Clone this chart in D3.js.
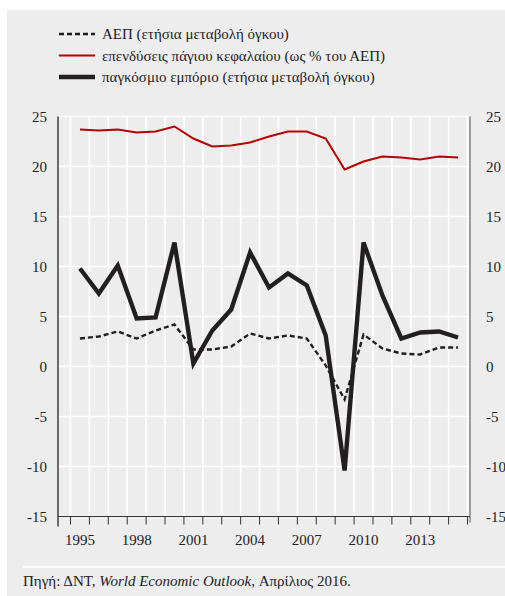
<!DOCTYPE html>
<html>
<head>
<meta charset="utf-8">
<script src="https://d3js.org/d3.v7.min.js"></script>
<style>
  text, tspan { font-family: 'Liberation Serif', Tinos, 'Times New Roman', serif !important; }
</style>
</head>
<body style="margin:0">
<svg width="505" height="596"></svg>
<script>
// data
var years = d3.range(1995, 2016);
var gdp = [2.8, 3.0, 3.5, 2.8, 3.6, 4.2, 1.7, 1.7, 2.0, 3.3, 2.8, 3.1, 2.8, 0.1, -3.3, 3.2, 1.8, 1.3, 1.2, 1.9, 1.9];
var investment = [23.7, 23.6, 23.7, 23.4, 23.5, 24.0, 22.8, 22.0, 22.1, 22.4, 23.0, 23.5, 23.5, 22.8, 19.7, 20.5, 21.0, 20.9, 20.7, 21.0, 20.9];
var trade = [9.8, 7.3, 10.1, 4.8, 4.9, 12.4, 0.3, 3.6, 5.7, 11.4, 7.9, 9.3, 8.1, 3.1, -10.4, 12.4, 7.1, 2.8, 3.4, 3.5, 2.9];
var yTicks = [25, 20, 15, 10, 5, 0, -5, -10, -15];
var xLabels = [1995, 1998, 2001, 2004, 2007, 2010, 2013];
var legendLabels = [
  "ΑΕΠ (ετήσια μεταβολή όγκου)",
  "επενδύσεις πάγιου κεφαλαίου (ως % του ΑΕΠ)",
  "παγκόσμιο εμπόριο (ετήσια μεταβολή όγκου)"
];

var svg = d3.select("svg");

// every label goes through this
function label(sel){
  return sel.append("text").attr("font-size", 15).attr("fill", "#222");
}

// gray panel
svg.append("rect").attr("x", 7).attr("y", 10).attr("width", 498).attr("height", 586).attr("fill", "#ededed");

var plotL = 58, plotR = 470, plotT = 116.5, plotB = 516.5;
var x = d3.scaleLinear().domain([1994.5, 2015.5]).range([70.5, 467.5]);
var y = d3.scaleLinear().domain([-15, 25]).range([plotB, plotT]);
var bounds = d3.range(1994.5, 2016, 1);

// grid
var grid = svg.append("g").attr("stroke", "#fff").attr("stroke-width", 1.6);
grid.selectAll(".v").data(bounds).enter().append("line")
  .attr("x1", function(d){ return x(d); }).attr("x2", function(d){ return x(d); })
  .attr("y1", plotT).attr("y2", plotB);
grid.selectAll(".h").data(yTicks).enter().append("line")
  .attr("x1", plotL).attr("x2", plotR)
  .attr("y1", function(d){ return y(d); }).attr("y2", function(d){ return y(d); });

// axes lines
svg.append("line").attr("x1", plotL).attr("x2", plotL).attr("y1", plotT).attr("y2", plotB + 10)
  .attr("stroke", "#111").attr("stroke-width", 1.2);
svg.append("line").attr("x1", plotR).attr("x2", plotR).attr("y1", plotT).attr("y2", plotB + 6)
  .attr("stroke", "#8a8a8a").attr("stroke-width", 1.6);
svg.append("line").attr("x1", plotL).attr("x2", plotR).attr("y1", plotB).attr("y2", plotB)
  .attr("stroke", "#333").attr("stroke-width", 1);
svg.append("g").selectAll("line").data(bounds).enter().append("line")
  .attr("x1", function(d){ return x(d); }).attr("x2", function(d){ return x(d); })
  .attr("y1", plotB).attr("y2", plotB + 8)
  .attr("stroke", "#333").attr("stroke-width", 1);

// y labels both sides
var yl = svg.append("g");
yTicks.forEach(function(d){
  label(yl).attr("x", 47).attr("y", y(d) + 5).attr("text-anchor", "end").text(d);
  label(yl).attr("x", 486).attr("y", y(d) + 5).text(d);
});

// x labels
var xl = svg.append("g");
xLabels.forEach(function(d){
  label(xl).attr("x", x(d)).attr("y", 545).attr("text-anchor", "middle").text(d);
});

// lines
var line = function(vals){
  return d3.line().x(function(d, i){ return x(years[i]); }).y(function(d){ return y(d); })(vals);
};
svg.append("path").attr("d", line(investment)).attr("fill", "none")
  .attr("stroke", "#b80000").attr("stroke-width", 2);
svg.append("path").attr("d", line(gdp)).attr("fill", "none")
  .attr("stroke", "#231f20").attr("stroke-width", 2.4).attr("stroke-dasharray", "5,3");
svg.append("path").attr("d", line(trade)).attr("fill", "none")
  .attr("stroke", "#231f20").attr("stroke-width", 4.4).attr("stroke-linejoin", "miter");

// legend
var lg = svg.append("g");
var styles = [
  {stroke: "#231f20", w: 2.4, dash: "5,3"},
  {stroke: "#b80000", w: 2, dash: null},
  {stroke: "#231f20", w: 4.4, dash: null}
];
legendLabels.forEach(function(t, i){
  var yy = 34 + i * 21.5;
  lg.append("line").attr("x1", 59).attr("x2", 95).attr("y1", yy).attr("y2", yy)
    .attr("stroke", styles[i].stroke).attr("stroke-width", styles[i].w)
    .attr("stroke-dasharray", styles[i].dash);
  label(lg).attr("x", 102).attr("y", yy + 5).text(t);
});

// footer
svg.append("line").attr("x1", 23).attr("x2", 505).attr("y1", 567).attr("y2", 567)
  .attr("stroke", "#fff").attr("stroke-width", 1.6);
var ft = label(svg).attr("x", 23).attr("y", 586);
ft.append("tspan").text("Πηγή: ΔΝΤ, ");
ft.append("tspan").style("font-style", "italic").text("World Economic Outlook");
ft.append("tspan").text(", Απρίλιος 2016.");
</script>
</body>
</html>
